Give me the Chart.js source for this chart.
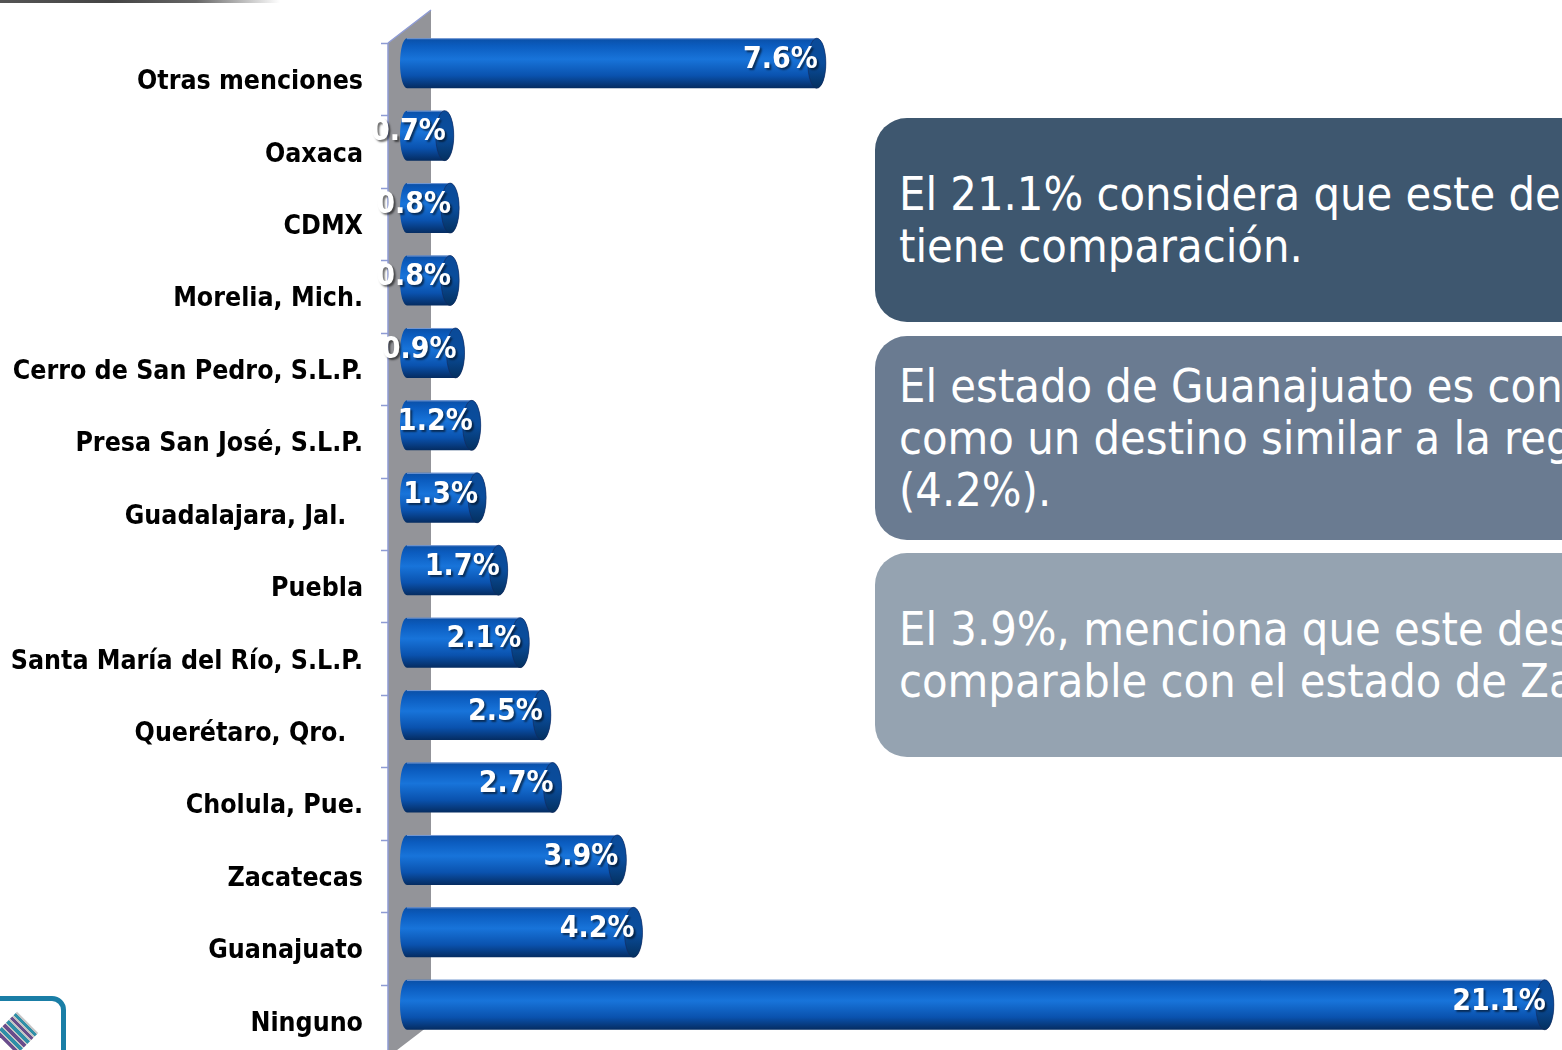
<!DOCTYPE html>
<html>
<head>
<meta charset="utf-8">
<script src="https://cdn.jsdelivr.net/npm/chart.js@4.4.1/dist/chart.umd.min.js"></script>
<style>
  html, body { margin:0; padding:0; width:1562px; height:1050px; overflow:hidden; background:#fff; }
  #wrap { position:absolute; left:0; top:0; width:1562px; height:1060px; }
  .box { position:absolute; left:875px; width:900px; height:204px; border-radius:32px;
         color:#fff; font-family:"DejaVu Sans Condensed","DejaVu Sans",sans-serif; font-size:46.5px;
         line-height:52px; white-space:nowrap; display:flex; align-items:center; padding-left:24px; box-sizing:border-box; }
  #topline { position:absolute; left:0; top:0; width:280px; height:3px;
             background:linear-gradient(to right,#555 0%,#444 40%,#666 70%,rgba(255,255,255,0) 100%); }
  #logo { position:absolute; left:-40px; top:996px; width:106px; height:100px; border:5px solid #1a7ea6; border-radius:14px; box-sizing:border-box; overflow:hidden; }
  #logo .d { position:absolute; left:37px; top:17px; width:30px; height:30px; transform:rotate(45deg);
             background:repeating-linear-gradient(0deg,#6a4c8c 0 3px,#c4c4c4 3px 5px,#2f8fa8 5px 8px,#c4c4c4 8px 10px); }
</style>
</head>
<body>
<div id="topline"></div>
<div id="wrap"><canvas id="c" width="1562" height="1060"></canvas></div>
<div class="box" style="top:118px;background:#3e576f;">El 21.1% considera que este destino no<br>tiene comparación.</div>
<div class="box" style="top:336px;background:#6a7b91;">El estado de Guanajuato es considerado<br>como un destino similar a la región<br>(4.2%).</div>
<div class="box" style="top:553px;background:#95a3b1;">El 3.9%, menciona que este destino es<br>comparable con el estado de Zacatecas.</div>
<div id="logo"><div class="d"></div></div>
<script>
const categories = [
  "Otras menciones", "Oaxaca", "CDMX", "Morelia, Mich.", "Cerro de San Pedro, S.L.P.",
  "Presa San José, S.L.P.", "Guadalajara, Jal.  ", "Puebla", "Santa María del Río, S.L.P.",
  "Querétaro, Qro.  ", "Cholula, Pue.", "Zacatecas", "Guanajuato", "Ninguno"
];
const values = [7.6, 0.7, 0.8, 0.8, 0.9, 1.2, 1.3, 1.7, 2.1, 2.5, 2.7, 3.9, 4.2, 21.1];
const valueLabels = ["7.6%", "0.7%", "0.8%", "0.8%", "0.9%", "1.2%", "1.3%", "1.7%", "2.1%", "2.5%", "2.7%", "3.9%", "4.2%", "21.1%"];

const SHIFT = 16;   // 3D depth shift of the bars
const FONT = '"DejaVu Sans Condensed","DejaVu Sans",sans-serif';

const wallPlugin = {
  id: 'wall',
  beforeDatasetsDraw(chart) {
    const {ctx, chartArea} = chart;
    const l = chartArea.left, t = chartArea.top, b = chartArea.bottom;
    const wl = l - 19, wr = l + 24, depth = 33;
    ctx.save();
    ctx.fillStyle = '#939499';
    ctx.beginPath();
    ctx.moveTo(wl, t); ctx.lineTo(wr, t - depth); ctx.lineTo(wr, b - depth); ctx.lineTo(wl, b); ctx.closePath();
    ctx.fill();
    ctx.strokeStyle = '#8e9bd4';
    ctx.lineWidth = 1.5;
    ctx.beginPath();
    ctx.moveTo(wl, t); ctx.lineTo(wl, b + 10);
    ctx.moveTo(wl, t); ctx.lineTo(wr, t - depth);
    ctx.stroke();
    const n = categories.length, step = (b - t) / n;
    ctx.beginPath();
    for (let i = 0; i <= n; i++) {
      const y = Math.round(t + i * step) + 0.5;
      ctx.moveTo(wl - 7, y); ctx.lineTo(wl, y);
    }
    ctx.stroke();
    ctx.restore();
  }
};

const cylPlugin = {
  id: 'cyl',
  afterDatasetsDraw(chart) {
    const {ctx} = chart;
    const meta = chart.getDatasetMeta(0);
    ctx.save();
    meta.data.forEach((el, i) => {
      const p = el.getProps(['x', 'y', 'base', 'height'], true);
      const x0 = p.base, x1 = p.x, h = p.height, cy = p.y - SHIFT;
      const top = cy - h / 2, bot = cy + h / 2;
      const g = ctx.createLinearGradient(0, top, 0, bot);
      g.addColorStop(0, '#0a4fa6');
      g.addColorStop(0.15, '#0b5cbf');
      g.addColorStop(0.42, '#1874da');
      g.addColorStop(0.75, '#0a52ae');
      g.addColorStop(1, '#052c61');
      const rxL = 7, rxR = 9;
      ctx.fillStyle = g;
      ctx.beginPath();
      ctx.moveTo(x1, top);
      ctx.lineTo(x0, top);
      ctx.ellipse(x0, cy, rxL, h / 2, 0, -Math.PI / 2, Math.PI / 2, true);
      ctx.lineTo(x1, bot);
      ctx.ellipse(x1, cy, rxR, h / 2, 0, Math.PI / 2, -Math.PI / 2, true);
      ctx.closePath();
      ctx.fill();
      ctx.strokeStyle = 'rgba(150,175,225,0.8)';
      ctx.lineWidth = 1;
      ctx.beginPath();
      ctx.moveTo(x0, top + 0.5); ctx.lineTo(x1, top + 0.5);
      ctx.stroke();
      const gc = ctx.createLinearGradient(0, top, 0, bot);
      gc.addColorStop(0, '#0a4a98');
      gc.addColorStop(0.5, '#0a4d9c');
      gc.addColorStop(1, '#04305f');
      ctx.fillStyle = gc;
      ctx.beginPath();
      ctx.ellipse(x1, cy, rxR, h / 2, 0, 0, Math.PI * 2);
      ctx.fill();
      ctx.strokeStyle = 'rgba(20,40,90,0.6)';
      ctx.stroke();
    });
    ctx.font = 'bold 30px ' + FONT;
    ctx.textAlign = 'right';
    ctx.textBaseline = 'middle';
    meta.data.forEach((el, i) => {
      const p = el.getProps(['x', 'y'], true);
      ctx.shadowColor = 'rgba(0,0,0,0.55)';
      ctx.shadowOffsetX = 2; ctx.shadowOffsetY = 2; ctx.shadowBlur = 2;
      ctx.fillStyle = '#ffffff';
      ctx.fillText(valueLabels[i], p.x + 1, p.y - SHIFT - 3);
    });
    ctx.restore();
  }
};

new Chart(document.getElementById('c'), {
  type: 'bar',
  data: {
    labels: categories,
    datasets: [{
      data: values,
      backgroundColor: 'rgba(0,0,0,0)',
      borderWidth: 0,
      barPercentage: 0.69,
      categoryPercentage: 1
    }]
  },
  options: {
    indexAxis: 'y',
    responsive: false,
    animation: false,
    devicePixelRatio: 1,
    layout: { padding: { top: 43, bottom: 3, right: 1, left: 0 } },
    plugins: { legend: { display: false }, tooltip: { enabled: false } },
    scales: {
      x: { type: 'linear', min: 0, max: 21.4, display: false },
      y: {
        type: 'category',
        grid: { display: false, drawTicks: false },
        border: { display: false },
        ticks: { color: '#000', padding: 44, font: { family: FONT, size: 26.5, weight: 'bold' } },
        afterFit(s) {
          s.width = 407; s.paddingTop = 0; s.paddingBottom = 0;
          if (!s._shifted) {
            const orig = s.drawLabels;
            s.drawLabels = function (area) {
              this.ctx.save(); this.ctx.translate(0, 3); orig.call(this, area); this.ctx.restore();
            };
            s._shifted = true;
          }
        }
      }
    }
  },
  plugins: [wallPlugin, cylPlugin]
});
</script>
</body>
</html>
